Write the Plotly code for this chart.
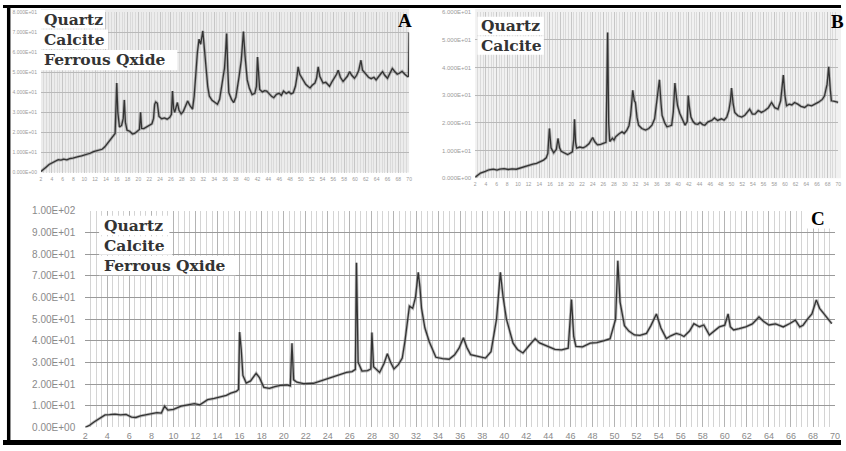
import plotly.graph_objects as go

W, H = 846, 451

# ---------------- data (2-theta in degrees, intensity) ----------------
tt_a = [2.0, 2.5, 3.0, 3.5, 4.1, 4.6, 5.2, 5.7, 6.2, 6.8, 7.3, 7.9, 8.4, 8.9, 9.5, 10.0, 10.6, 11.1, 11.7, 12.2,
        12.8, 13.3, 13.8, 14.3, 14.8, 15.3, 15.7, 16.0, 16.2, 16.5, 16.9, 17.2, 17.4, 17.6, 17.9, 18.4, 18.9, 19.3,
        19.8, 20.2, 20.4, 20.6, 21.0, 21.5, 22.0, 22.5, 22.8, 23.0, 23.2, 23.5, 23.8, 24.3, 24.8, 25.3, 25.8, 26.1,
        26.3, 26.5, 26.7, 27.0, 27.2, 27.5, 27.9, 28.3, 28.7, 29.1, 29.5, 30.0, 30.3, 30.6, 30.9, 31.2, 31.5, 31.9,
        32.2, 32.5, 32.8, 33.1, 33.6, 34.1, 34.6, 35.0, 35.3, 35.6, 35.9, 36.1, 36.3, 36.5, 36.7, 37.2, 37.6, 38.0,
        38.3, 38.6, 39.0, 39.4, 39.7, 40.1, 40.5, 41.0, 41.5, 41.8, 42.0, 42.2, 42.4, 42.9, 43.3, 43.7, 44.2, 44.6,
        45.0, 45.5, 46.0, 46.4, 46.8, 47.3, 47.8, 48.2, 48.6, 49.0, 49.3, 49.5, 49.8, 50.1, 50.5, 50.9, 51.3, 51.7,
        52.1, 52.6, 52.9, 53.2, 53.5, 54.1, 54.6, 55.0, 55.3, 55.8, 56.3, 56.6, 56.9, 57.3, 57.8, 58.2, 58.6, 59.0,
        59.4, 59.9, 60.3, 60.7, 61.1, 61.4, 61.7, 62.0, 62.5, 63.0, 63.5, 63.9, 64.3, 64.7, 65.1, 65.5, 66.0, 66.4,
        66.9, 67.3, 67.8, 68.2, 68.7, 69.2, 69.7, 69.9, 70.0]
int_a = [0.5, 1.5, 2.8, 4.0, 4.9, 5.8, 6.4, 6.2, 6.7, 6.3, 6.9, 7.2, 7.4, 7.9, 8.3, 8.6, 9.1, 9.6, 10.4, 10.9,
         11.2, 11.6, 12.8, 14.6, 16.3, 17.8, 19.5, 44.6, 30.0, 22.7, 23.5, 27.0, 36.2, 25.0, 21.1, 20.6, 19.2, 19.5,
         20.5, 21.5, 30.0, 22.0, 21.9, 22.8, 23.8, 24.3, 27.0, 34.0, 35.2, 34.5, 28.0, 26.8, 27.2, 26.6, 27.5, 29.0,
         40.6, 32.0, 30.0, 33.0, 34.9, 31.0, 29.2, 30.5, 33.0, 35.7, 33.5, 31.6, 38.0, 51.0, 60.0, 66.5, 64.0, 70.6,
         62.0, 51.0, 43.0, 38.1, 36.0, 35.0, 34.0, 36.5, 41.0, 47.0, 52.0, 60.0, 69.3, 52.0, 39.8, 36.5, 34.9, 37.5,
         42.0, 48.0, 56.0, 70.3, 58.0, 46.2, 42.0, 38.9, 39.5, 43.0, 57.6, 48.0, 41.4, 40.2, 40.8, 40.6, 39.0, 38.0,
         37.3, 39.0, 39.5, 38.5, 40.6, 39.4, 40.2, 39.2, 39.8, 43.0, 48.0, 52.7, 49.0, 47.5, 46.2, 44.0, 43.0, 42.2,
         43.5, 44.6, 47.0, 52.7, 48.0, 44.6, 45.0, 43.8, 43.0, 45.5, 47.5, 49.0, 51.0, 47.5, 45.4, 46.5, 48.0, 50.3,
         48.5, 47.0, 48.5, 51.0, 56.0, 51.0, 50.0, 48.7, 47.5, 46.8, 47.5, 46.2, 47.8, 49.0, 50.3, 48.5, 47.0, 49.0,
         51.9, 50.5, 49.0, 49.5, 50.5, 49.0, 47.9, 48.0, 69.8]

tt_b = [2.0, 2.5, 3.0, 3.9, 4.6, 5.4, 6.1, 6.6, 7.4, 8.2, 8.9, 9.7, 10.5, 11.2, 12.0, 12.8, 13.5, 14.2, 14.8, 15.3,
        15.6, 15.9, 16.2, 16.7, 17.2, 17.5, 17.8, 18.1, 18.8, 19.3, 19.6, 20.2, 20.45, 20.6, 20.8, 21.0, 21.6, 22.2,
        22.7, 23.3, 23.7, 24.0, 24.4, 24.9, 25.5, 26.1, 26.5, 26.8, 27.0, 27.2, 27.7, 28.0, 28.3, 28.9, 29.5, 29.9,
        30.4, 30.8, 31.1, 31.3, 31.5, 31.8, 32.0, 32.3, 32.6, 33.2, 33.9, 34.5, 35.1, 35.6, 36.1, 36.5, 36.8, 37.0,
        37.5, 37.9, 38.4, 38.8, 39.1, 39.4, 39.7, 39.9, 40.3, 40.7, 41.3, 41.7, 41.9, 42.1, 42.4, 42.8, 43.2, 43.7,
        44.1, 44.6, 45.0, 45.6, 46.3, 46.8, 47.4, 48.1, 48.6, 49.1, 49.5, 49.8, 50.0, 50.3, 50.6, 51.2, 51.9, 52.5,
        53.0, 53.4, 53.9, 54.4, 55.0, 55.6, 56.2, 56.9, 57.5, 58.1, 58.7, 59.2, 59.7, 60.0, 60.3, 60.8, 61.3, 61.8,
        62.4, 63.0, 63.7, 64.3, 65.0, 65.6, 66.3, 67.0, 67.4, 67.9, 68.2, 68.5, 68.7, 69.3, 70.0]
int_b = [0.4, 1.2, 1.9, 2.5, 3.1, 3.3, 3.0, 3.3, 3.5, 3.2, 3.4, 3.3, 3.8, 4.3, 4.6, 5.1, 5.4, 6.0, 6.6, 7.4,
         9.0, 18.0, 11.0, 9.2, 10.5, 14.4, 11.0, 9.8, 9.0, 8.6, 8.9, 9.6, 14.0, 21.3, 13.0, 10.9, 11.3, 11.0,
         11.5, 12.5, 13.8, 14.7, 13.2, 12.1, 12.3, 12.7, 13.0, 52.6, 20.0, 13.3, 14.5, 13.8, 15.0, 16.0, 16.8, 16.2,
         17.4, 19.0, 22.7, 27.0, 31.8, 28.0, 27.4, 22.0, 19.2, 18.0, 17.4, 18.0, 19.2, 21.5, 28.5, 35.6, 27.0, 22.7,
         20.0, 18.6, 18.9, 19.2, 24.0, 34.4, 29.0, 26.2, 23.5, 21.5, 19.2, 20.5, 29.9, 26.0, 22.1, 20.5, 19.7, 19.5,
         20.2, 19.4, 19.2, 20.4, 20.9, 21.8, 20.9, 21.5, 21.0, 22.1, 24.5, 28.0, 32.6, 27.0, 23.8, 22.6, 22.1, 22.8,
         24.0, 25.0, 23.2, 23.2, 24.5, 23.8, 24.4, 25.5, 27.4, 25.5, 25.0, 28.0, 37.3, 30.0, 26.2, 26.8, 26.5, 27.4,
         26.8, 26.0, 25.6, 26.5, 26.2, 26.8, 27.5, 28.5, 29.7, 34.0, 40.3, 32.0, 28.0, 27.8, 27.4]

tt_c = [2.0, 2.4, 2.8, 3.2, 3.5, 3.8, 4.2, 4.7, 5.2, 5.7, 6.2, 6.6, 7.0, 7.5, 8.0, 8.5, 8.9, 9.2, 9.5, 10.0,
        10.7, 11.3, 11.9, 12.4, 13.1, 13.7, 14.3, 14.8, 15.2, 15.7, 15.9, 16.0, 16.15, 16.3, 16.6, 17.0, 17.5, 17.8,
        18.2, 18.7, 19.2, 19.7, 20.3, 20.6, 20.75, 20.9, 21.2, 21.8, 22.7, 23.5, 24.2, 25.0, 25.7, 26.2, 26.5, 26.6,
        26.75, 27.1, 27.6, 27.9, 28.0, 28.15, 28.7, 29.1, 29.4, 29.7, 30.0, 30.4, 30.75, 31.0, 31.2, 31.4, 31.7,
        31.95, 32.2, 32.35, 32.5, 32.8, 33.2, 33.8, 34.4, 35.0, 35.5, 35.9, 36.3, 36.6, 36.95, 37.6, 38.3, 38.8,
        39.3, 39.65, 39.9, 40.2, 40.5, 40.8, 41.2, 41.7, 42.2, 42.8, 43.2, 43.7, 44.1, 44.6, 45.2, 45.8, 46.1, 46.3,
        46.5, 47.1, 47.8, 48.4, 49.0, 49.6, 50.1, 50.3, 50.5, 50.9, 51.3, 51.8, 52.3, 52.9, 53.3, 53.8, 54.2, 54.7,
        55.1, 55.6, 56.0, 56.3, 56.8, 57.2, 57.7, 58.1, 58.6, 59.0, 59.5, 60.0, 60.3, 60.5, 60.8, 61.3, 61.9, 62.5,
        63.1, 63.5, 64.0, 64.6, 65.3, 65.9, 66.4, 66.8, 67.1, 67.5, 67.9, 68.3, 68.6, 69.0, 69.4, 69.7, 70.0]
int_c = [0.0, 1.0, 2.5, 3.8, 5.0, 5.8, 5.9, 6.1, 5.8, 6.0, 4.8, 4.6, 5.3, 5.8, 6.3, 6.8, 6.6, 9.8, 8.0, 8.3,
         9.8, 10.4, 11.0, 10.4, 12.8, 13.4, 14.2, 14.8, 15.8, 16.6, 17.5, 44.0, 36.0, 24.0, 20.5, 21.5, 25.0, 23.0,
         18.5, 18.0, 18.8, 19.4, 19.6, 19.2, 38.9, 22.0, 20.9, 20.2, 20.4, 21.8, 23.0, 24.2, 25.4, 25.8, 26.8, 76.0,
         30.0, 26.0, 26.2, 27.0, 43.8, 28.0, 25.4, 29.5, 34.0, 30.0, 27.0, 29.0, 32.0, 40.0, 49.0, 56.0, 55.0,
         60.0, 71.6, 65.0, 55.0, 46.0, 39.6, 32.4, 31.8, 31.5, 33.5, 36.6, 41.4, 37.0, 33.6, 32.8, 32.0, 35.0,
         50.0, 71.6, 60.0, 50.0, 44.0, 38.9, 36.0, 34.4, 37.5, 41.0, 39.0, 37.8, 37.2, 36.0, 35.8, 36.6, 59.0, 42.0,
         37.4, 37.2, 38.9, 39.2, 40.0, 41.0, 50.0, 77.0, 58.0, 47.0, 44.5, 42.7, 42.5, 43.4, 47.0, 52.4, 46.0, 41.0,
         42.3, 43.4, 42.8, 42.0, 44.5, 47.9, 46.5, 47.3, 42.7, 44.5, 46.4, 47.2, 52.4, 46.5, 45.0, 45.6, 46.4, 47.8,
         51.0, 49.0, 47.3, 47.8, 46.4, 48.0, 49.5, 46.4, 47.2, 50.0, 52.4, 58.9, 55.0, 52.4, 49.5, 47.9]

x_ticks = list(range(2, 72, 2))
x_ticklabels = [str(v) for v in x_ticks]
ya_ticks = [0, 10, 20, 30, 40, 50, 60, 70, 80]
ya_labels = ["0.000E+00", "1.000E+01", "2.000E+01", "3.000E+01", "4.000E+01",
             "5.000E+01", "6.000E+01", "7.000E+01", "8.000E+01"]
yb_ticks = [0, 10, 20, 30, 40, 50, 60]
yb_labels = ["0.000E+00", "1.000E+01", "2.000E+01", "3.000E+01", "4.000E+01", "5.000E+01", "6.000E+01"]
yc_ticks = [0, 10, 20, 30, 40, 50, 60, 70, 80, 90, 100]
yc_labels = ["0.00E+00", "1.00E+01", "2.00E+01", "3.00E+01", "4.00E+01", "5.00E+01",
             "6.00E+01", "7.00E+01", "8.00E+01", "9.00E+01", "1.00E+02"]
minerals_a = ["Quartz", "Calcite", "Ferrous Qxide"]
minerals_b = ["Quartz", "Calcite"]
minerals_c = ["Quartz", "Calcite", "Ferrous Qxide"]
panel_letters = ["A", "B", "C"]


def px(x):
    return x / W


def py(y):
    return 1 - y / H


fig = go.Figure()

for tt, it, xa, ya in [(tt_a, int_a, "x", "y"), (tt_b, int_b, "x2", "y2"), (tt_c, int_c, "x3", "y3")]:
    fig.add_trace(go.Scatter(x=tt, y=it, xaxis=xa, yaxis=ya, mode="lines",
                             line=dict(color="rgba(110,110,110,0.45)", width=3.0),
                             hoverinfo="skip", showlegend=False))
    fig.add_trace(go.Scatter(x=tt, y=it, xaxis=xa, yaxis=ya, mode="lines",
                             line=dict(color="#333333", width=1.3),
                             hoverinfo="skip", showlegend=False))

small_x = dict(range=[2, 70], tickvals=x_ticks, ticktext=x_ticklabels, showline=False, zeroline=False,
               ticks="", showgrid=True, gridcolor="#c6c6c6", gridwidth=1,
               minor=dict(dtick=0.5, tick0=0, showgrid=True, gridcolor="#dadada", gridwidth=1),
               tickfont=dict(family="Liberation Sans", size=5, color="#9a9a9a"), ticklabelstandoff=2)

layout_axes = dict(
    xaxis=dict(small_x, domain=[px(38.3), px(410)], anchor="y"),
    yaxis=dict(domain=[py(171.7), py(7.3)], range=[0, 80], anchor="x", tickvals=ya_ticks, ticktext=ya_labels,
               showline=False, zeroline=False, ticks="", gridcolor="#b9b9b9",
               tickfont=dict(family="Liberation Sans", size=5, color="#9a9a9a"), ticklabelstandoff=3),
    xaxis2=dict(small_x, domain=[px(476.7), px(843.3)], anchor="y2"),
    yaxis2=dict(domain=[py(177.7), py(7.3)], range=[0, 60], anchor="x2", tickvals=yb_ticks, ticktext=yb_labels,
                showline=False, zeroline=False, ticks="", gridcolor="#b9b9b9",
                tickfont=dict(family="Liberation Sans", size=6, color="#9a9a9a"), ticklabelstandoff=3),
    xaxis3=dict(domain=[px(83), px(840)], anchor="y3", range=[2, 70], tickvals=x_ticks, ticktext=x_ticklabels,
                showline=False, zeroline=False, ticks="", showgrid=True, gridcolor="#b4b4b4", gridwidth=1,
                minor=dict(dtick=0.5, tick0=0, showgrid=True, gridcolor="#d4d4d4", gridwidth=1),
                tickfont=dict(family="Liberation Sans", size=9, color="#8a8a8a"), ticklabelstandoff=2),
    yaxis3=dict(domain=[py(433), py(211)], range=[0, 100], anchor="x3", tickvals=yc_ticks, ticktext=yc_labels,
                showline=False, zeroline=False, ticks="", gridcolor="#9a9a9a",
                tickfont=dict(family="Liberation Sans", size=10, color="#8a8a8a"), ticklabelstandoff=9),
)


def rect(x0, y0, x1, y1, color, layer="above"):
    return dict(type="rect", xref="paper", yref="paper", x0=px(x0), x1=px(x1), y0=py(y1), y1=py(y0),
                fillcolor=color, line=dict(width=0), layer=layer)


shapes = [
    # light grey plot backgrounds of the small panels
    rect(38.3, 4, 410, 171.7, "#ececec", "below"),
    rect(476.7, 4, 846, 177.7, "#f1f1f1", "below"),
    # white boxes behind the mineral labels
    rect(38, 5, 103, 24, "white"), rect(38, 25, 106, 45, "white"), rect(38, 46, 176, 67, "white"),
    rect(479, 12, 546, 31, "white"), rect(479, 32, 546, 51, "white"),
    rect(97, 216, 168, 236, "white"), rect(97, 237, 171, 256, "white"), rect(97, 257, 235, 277, "white"),
    rect(808, 209, 846, 229, "white"),
    # black frame
    rect(0, 0, 846, 3, "black"),
    rect(4, 0, 7.5, 451, "black"),
    rect(0, 446, 846, 451, "black"),
]

annotations = []
lab_font = dict(family="DejaVu Serif, Liberation Serif, serif", size=15.5, color="#333333")


def add_block(names, x, yc):
    annotations.append(dict(text="<br>".join("<b>" + n + "</b>" for n in names), x=px(x), y=py(yc),
                            xref="paper", yref="paper", xanchor="left", yanchor="middle", align="left",
                            showarrow=False, font=lab_font))


add_block(minerals_a, 39, 35.5)
add_block(minerals_b, 481, 31.5)
add_block(minerals_c, 100, 246.5)

letter_font = dict(family="Liberation Serif, Times New Roman, serif", size=19, color="black")
annotations.append(dict(text="<b>" + panel_letters[0] + "</b>", x=px(406), y=py(16), xref="paper", yref="paper",
                        xanchor="center", yanchor="middle", showarrow=False, font=letter_font))
annotations.append(dict(text="<b>" + panel_letters[1] + "</b>", x=px(834), y=py(17), xref="paper", yref="paper",
                        xanchor="left", yanchor="middle", showarrow=False, font=letter_font))
annotations.append(dict(text="<b>" + panel_letters[2] + "</b>", x=px(823), y=py(219), xref="paper", yref="paper",
                        xanchor="center", yanchor="middle", showarrow=False, font=letter_font))

fig.update_layout(width=W, height=H, margin=dict(l=0, r=0, t=0, b=0), paper_bgcolor="white",
                  plot_bgcolor="white", showlegend=False, shapes=shapes, annotations=annotations,
                  **layout_axes)

fig.write_html("out.html")
